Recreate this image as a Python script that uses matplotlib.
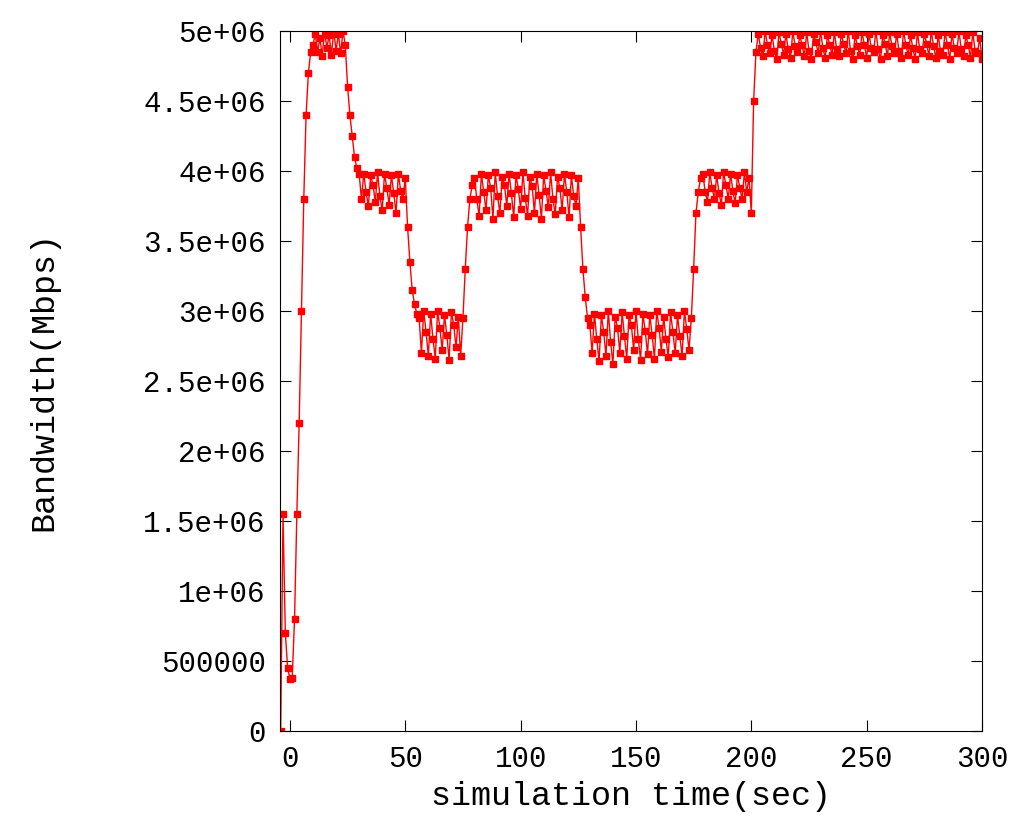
import numpy as np
import matplotlib.pyplot as plt

# bandwidth samples in units of 1e6, one per second starting at t=-4
startup = [0.0, 1.55, 0.7, 0.45, 0.37, 0.38, 0.8, 1.55, 2.2, 3.0, 3.8, 4.4, 4.7, 4.85, 4.9]
peak1 = [4.98, 4.85, 4.95, 4.82, 5.0, 4.88, 4.97, 4.83, 5.0, 4.86, 4.98, 4.84, 5.0, 4.9]
drop1 = [4.6, 4.4, 4.25, 4.1, 4.02, 3.98]
level4a = [3.8, 3.98, 3.85, 3.75, 3.97, 3.9, 3.78, 3.99, 3.82, 3.72, 3.98, 3.88, 3.76, 3.97,
           3.84, 3.7, 3.98, 3.86, 3.8, 3.95]
drop2 = [3.6, 3.35, 3.15, 3.05, 2.98]
level3a = [2.95, 2.7, 3.0, 2.85, 2.68, 2.98, 2.8, 2.66, 3.0, 2.88, 2.72, 2.97, 2.83, 2.65,
           2.99, 2.9, 2.74, 2.96, 2.68, 2.95]
rise1 = [3.3, 3.6, 3.8, 3.9]
level4b = [3.95, 3.8, 3.68, 3.98, 3.85, 3.72, 3.97, 3.88, 3.66, 3.99, 3.82, 3.7, 3.96, 3.9, 3.75,
           3.98, 3.84, 3.67, 3.97, 3.87, 3.73, 3.99, 3.81, 3.68, 3.96, 3.89, 3.7, 3.98, 3.83, 3.66,
           3.97, 3.86, 3.74, 3.99, 3.8, 3.69, 3.96, 3.88, 3.72, 3.98, 3.85, 3.67, 3.97, 3.82, 3.75]
drop3 = [3.95, 3.6, 3.3, 3.1, 2.95]
level3b = [2.9, 2.7, 2.98, 2.8, 2.64, 2.97, 2.85, 2.68, 3.0, 2.78, 2.62, 2.96, 2.88, 2.7, 2.99,
           2.82, 2.66, 2.97, 2.9, 2.72, 3.0, 2.8, 2.65, 2.98, 2.86, 2.69, 2.97, 2.83, 2.66, 3.0,
           2.88, 2.71, 2.96, 2.8, 2.67, 2.99, 2.85, 2.7, 2.97, 2.82, 2.68, 3.0, 2.87, 2.72, 2.95]
rise2 = [3.3, 3.7, 3.85, 3.95]
level4c = [3.98, 3.85, 3.78, 3.99, 3.88, 3.8, 3.97, 3.84, 3.76, 3.99, 3.9, 3.8, 3.98, 3.86,
           3.77, 3.97, 3.88, 3.8, 3.99, 3.85, 3.95]
rise3 = [3.7, 4.5, 4.85]
level5 = [4.98, 4.88, 4.82, 5.0, 4.9, 4.84, 4.97,
          4.86, 4.8, 4.99, 4.91, 4.83, 4.98, 4.87,
          4.81, 5.0, 4.89, 4.85, 4.97, 4.9, 4.82,
          4.99, 4.86, 4.8, 4.98, 4.92, 4.84, 5.0,
          4.88, 4.81, 4.97, 4.9, 4.83, 4.99, 4.87,
          4.82, 4.98, 4.91, 4.84, 5.0, 4.86, 4.8,
          4.97, 4.89, 4.83, 4.99, 4.9, 4.81, 4.98,
          4.88, 4.85, 5.0, 4.87, 4.8, 4.97, 4.91,
          4.82, 4.99, 4.89, 4.84, 4.98, 4.86, 4.81,
          5.0, 4.9, 4.83, 4.97, 4.88, 4.8, 4.99,
          4.87, 4.84, 4.98, 4.91, 4.82, 5.0, 4.89,
          4.81, 4.97, 4.86, 4.83, 4.99, 4.9, 4.8,
          4.98, 4.88, 4.84, 5.0, 4.87, 4.82, 4.97,
          4.9, 4.81, 4.99, 4.86, 4.84, 4.95, 4.8]

bw = np.array(startup + peak1 + drop1 + level4a + drop2 + level3a + rise1 + level4b
              + drop3 + level3b + rise2 + level4c + rise3 + level5) * 1e6
t = np.arange(-4, -4 + len(bw))

plt.rcParams['font.family'] = ['Liberation Mono', 'DejaVu Sans Mono']
fig = plt.figure(figsize=(10.24, 8.4), dpi=100)
ax = fig.add_axes([0.273, 0.130, 0.686, 0.833])
ax.plot(t, bw, color='red', lw=1, marker='s', ms=4.5, mec='red', mfc='red')
ax.set_xlim(-4.5, 300)
ax.set_ylim(0, 5e6)
ax.set_xticks([0, 50, 100, 150, 200, 250, 300])
ax.set_yticks(np.arange(0, 5.01e6, 5e5))
ax.set_yticklabels(['0', '500000', '1e+06', '1.5e+06', '2e+06', '2.5e+06', '3e+06',
                    '3.5e+06', '4e+06', '4.5e+06', '5e+06'])
ax.tick_params(labelsize=21, direction='in', length=8, top=True, right=True, pad=10)
ax.set_xlabel('simulation time(sec)', fontsize=24, labelpad=6)
ax.set_ylabel('Bandwidth(Mbps)', fontsize=24, labelpad=60)
fig.savefig('out.png')
